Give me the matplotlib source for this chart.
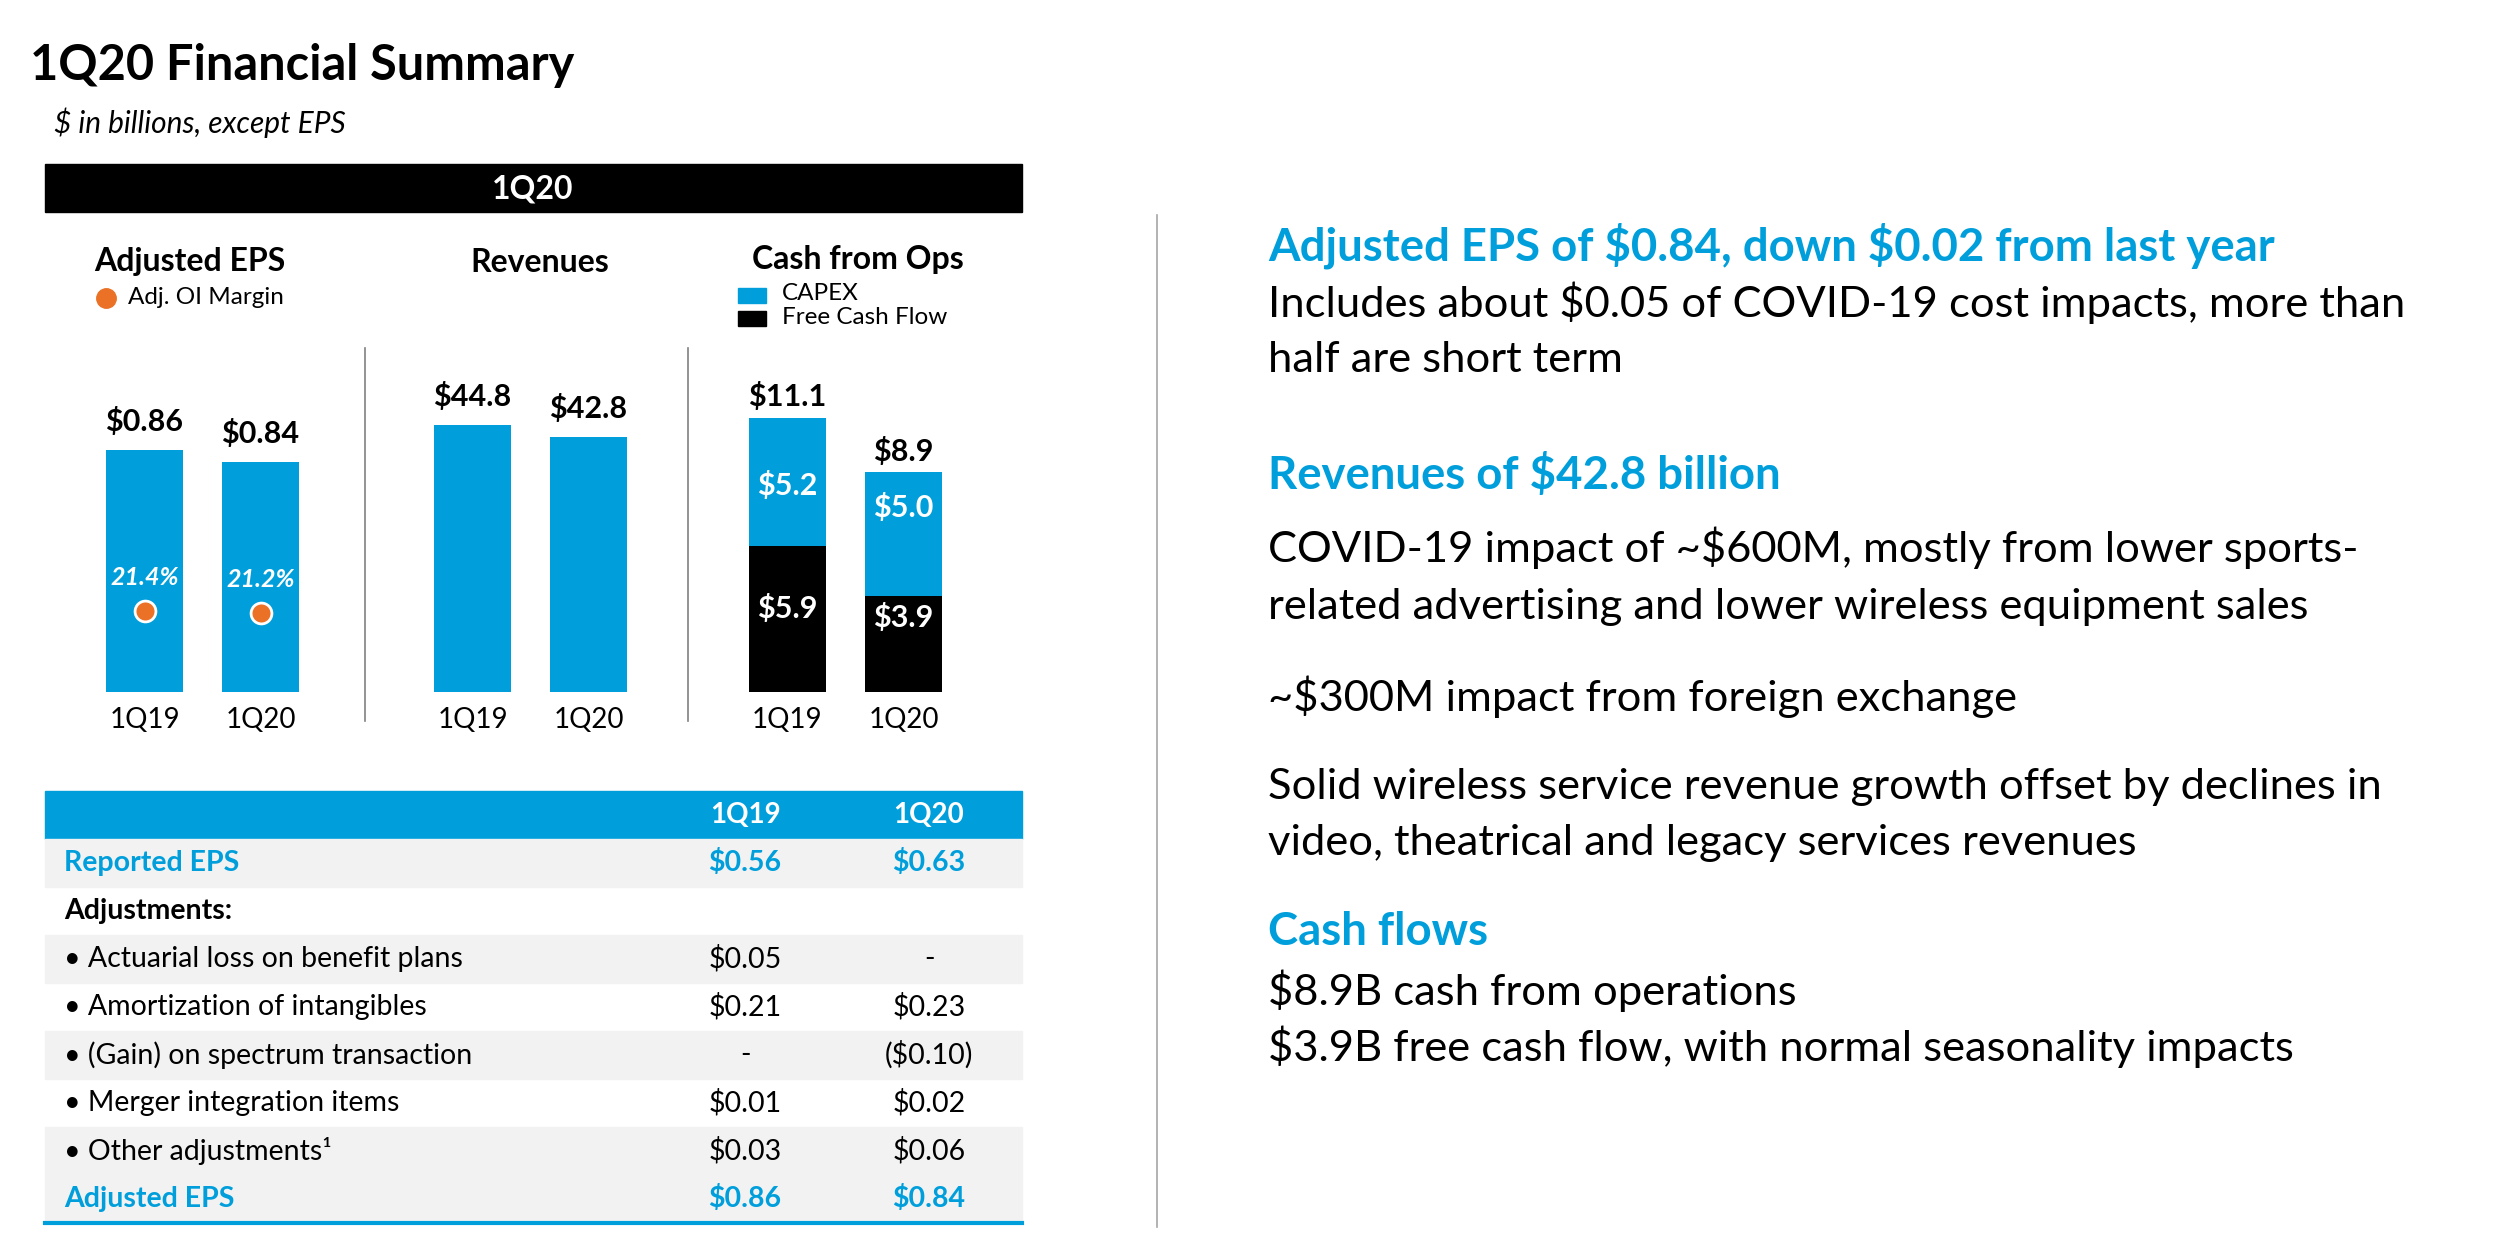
import matplotlib.pyplot as plt
from matplotlib.patches import Rectangle

# ----------------------------------------
# Data
# ----------------------------------------
quarters = ["1Q19", "1Q20"]
adj_eps = [0.86, 0.84]
oi_margin = [21.4, 21.2]
revenues = [44.8, 42.8]
capex = [5.2, 5.0]
free_cash_flow = [5.9, 3.9]
cash_from_ops = [11.1, 8.9]

table_labels = ["Reported EPS", "Adjustments:", "• Actuarial loss on benefit plans",
                "• Amortization of intangibles", "• (Gain) on spectrum transaction",
                "• Merger integration items", "• Other adjustments\u00b9", "Adjusted EPS"]
table_1q19 = ["$0.56", "", "$0.05", "$0.21", "-", "$0.01", "$0.03", "$0.86"]
table_1q20 = ["$0.63", "", "-", "$0.23", "($0.10)", "$0.02", "$0.06", "$0.84"]

right_text = [
    ("Adjusted EPS of $0.84, down $0.02 from last year", "head", 246),
    ("Includes about $0.05 of COVID-19 cost impacts, more than", "body", 303),
    ("half are short term", "body", 360),
    ("Revenues of $42.8 billion", "head", 475),
    ("COVID-19 impact of ~$600M, mostly from lower sports-", "body", 548),
    ("related advertising and lower wireless equipment sales", "body", 607),
    ("~$300M impact from foreign exchange", "body", 697),
    ("Solid wireless service revenue growth offset by declines in", "body", 787),
    ("video, theatrical and legacy services revenues", "body", 843),
    ("Cash flows", "head", 932),
    ("$8.9B cash from operations", "body", 991),
    ("$3.9B free cash flow, with normal seasonality impacts", "body", 1047),
]

# ----------------------------------------
# Style
# ----------------------------------------
BLUE = "#009FDB"
ORANGE = "#EA7125"
GRAY_ROW = "#F2F2F2"
plt.rcParams['font.family'] = ['Lato', 'DejaVu Sans']
plt.rcParams['text.parse_math'] = False

# where the labels sit inside the stacked segments (fraction of segment height)
CAPEX_LABEL_POS = [0.47, 0.71]
FCF_LABEL_POS = [0.57, 0.77]

W, H = 2499, 1238
fig = plt.figure(figsize=(W / 100, H / 100), dpi=100)

# background axes in pixel coordinates (y down)
bg = fig.add_axes([0, 0, 1, 1])
bg.set_xlim(0, W)
bg.set_ylim(H, 0)
bg.axis('off')


def px_rect(x0, y0, x1, y1):
    return [x0 / W, 1 - y1 / H, (x1 - x0) / W, (y1 - y0) / H]


# ----------------------------------------
# Titles and header bar
# ----------------------------------------
bg.text(30, 65, "1Q20 Financial Summary", fontsize=35, fontweight='bold', va='center')
bg.text(54, 123, "$ in billions, except EPS", fontsize=21.5, style='italic', va='center')
bg.add_patch(Rectangle((45, 164), 977, 48, color='black'))
bg.text(533, 189, "1Q20", fontsize=23, fontweight='bold', color='white', ha='center', va='center')

bg.text(190, 262, "Adjusted EPS", fontsize=23, fontweight='bold', ha='center', va='center')
bg.text(540, 262, "Revenues", fontsize=23, fontweight='bold', ha='center', va='center')
bg.text(858, 259, "Cash from Ops", fontsize=23, fontweight='bold', ha='center', va='center')

# legends
bg.plot(106, 298, 'o', ms=14, color=ORANGE)
bg.text(128, 297, "Adj. OI Margin", fontsize=17.5, va='center')
bg.add_patch(Rectangle((738, 288), 28, 15, color=BLUE))
bg.text(782, 294, "CAPEX", fontsize=17.5, va='center')
bg.add_patch(Rectangle((738, 311), 28, 15, color='black'))
bg.text(782, 318, "Free Cash Flow", fontsize=17.5, va='center')

# separators
for sx in (365, 688):
    bg.plot([sx, sx], [348, 721], color="#808080", lw=1.2)
bg.plot([1157, 1157], [215, 1227], color="#A6A6A6", lw=1.2)

# ----------------------------------------
# Bar panels
# ----------------------------------------
BAR_TOP, BAR_BOTTOM = 330, 692
PANEL_H = BAR_BOTTOM - BAR_TOP
BAR_W = 77 / 116


def make_panel(center0, base, px_per_unit):
    left = center0 - 0.5 * 116
    ax = fig.add_axes(px_rect(left, BAR_TOP, left + 232, BAR_BOTTOM))
    ax.set_xlim(-0.5, 1.5)
    ax.set_ylim(base, base + PANEL_H / px_per_unit)
    ax.patch.set_alpha(0)
    for s in ax.spines.values():
        s.set_visible(False)
    ax.set_yticks([])
    ax.set_xticks(range(len(quarters)))
    ax.set_xticklabels(quarters, fontsize=20)
    ax.tick_params(axis='x', length=0, pad=11)
    return ax


# Adjusted EPS
ax_eps = make_panel(144.5, 0.457, 600)
ax_eps.bar(range(2), adj_eps, width=BAR_W, color=BLUE)
for i, v in enumerate(adj_eps):
    ax_eps.annotate(f"${v:.2f}", (i, v), xytext=(0, 21), textcoords='offset points',
                    ha='center', va='center', fontsize=22, fontweight='bold')

ax_oi = ax_eps.twinx()
ax_oi.set_ylim(13.3, 13.3 + PANEL_H / 10)
ax_oi.axis('off')
ax_oi.plot(range(2), oi_margin, 'o', ls='none', ms=15, color=ORANGE, mec='white', mew=2)
for i, v in enumerate(oi_margin):
    ax_oi.annotate(f"{v:.1f}%", (i, v), xytext=(0, 24), textcoords='offset points',
                   ha='center', va='center', fontsize=18, fontweight='bold',
                   style='italic', color='white')

# Revenues
ax_rev = make_panel(472.5, 0, 5.95)
ax_rev.bar(range(2), revenues, width=BAR_W, color=BLUE)
for i, v in enumerate(revenues):
    ax_rev.annotate(f"${v:.1f}", (i, v), xytext=(0, 21), textcoords='offset points',
                    ha='center', va='center', fontsize=22, fontweight='bold')

# Cash from Ops
ax_cash = make_panel(787.5, 0, 24.7)
ax_cash.bar(range(2), free_cash_flow, width=BAR_W, color='black')
ax_cash.bar(range(2), capex, bottom=free_cash_flow, width=BAR_W, color=BLUE)
for i in range(2):
    ax_cash.annotate(f"${cash_from_ops[i]:.1f}", (i, cash_from_ops[i]), xytext=(0, 15),
                     textcoords='offset points', ha='center', va='center',
                     fontsize=22, fontweight='bold')
    ax_cash.text(i, free_cash_flow[i] * FCF_LABEL_POS[i], f"${free_cash_flow[i]:.1f}",
                 ha='center', va='center', fontsize=22, fontweight='bold', color='white')
    ax_cash.text(i, free_cash_flow[i] + capex[i] * CAPEX_LABEL_POS[i], f"${capex[i]:.1f}",
                 ha='center', va='center', fontsize=22, fontweight='bold', color='white')

# ----------------------------------------
# EPS reconciliation table
# ----------------------------------------
T_LEFT, T_RIGHT, T_TOP, ROW_H = 45, 1022, 791, 48
COL1, COL2 = 745, 929
bg.add_patch(Rectangle((T_LEFT, T_TOP), T_RIGHT - T_LEFT, ROW_H, color=BLUE))
bg.text(COL1, T_TOP + ROW_H / 2, quarters[0], fontsize=20, fontweight='bold', color='white',
        ha='center', va='center')
bg.text(COL2, T_TOP + ROW_H / 2, quarters[1], fontsize=20, fontweight='bold', color='white',
        ha='center', va='center')

row_fill = [True, False, True, False, True, False, True, True]
for r, label in enumerate(table_labels):
    y0 = T_TOP + ROW_H * (r + 1)
    yc = y0 + ROW_H / 2
    if row_fill[r]:
        bg.add_patch(Rectangle((T_LEFT, y0), T_RIGHT - T_LEFT, ROW_H, color=GRAY_ROW))
    if r in (0, len(table_labels) - 1):
        color, weight = BLUE, 'bold'
    elif r == 1:
        color, weight = 'black', 'bold'
    else:
        color, weight = 'black', 'normal'
    bg.text(64, yc, label, fontsize=20.5, color=color, fontweight=weight, va='center')
    bg.text(COL1, yc, table_1q19[r], fontsize=20.5, color=color, fontweight=weight,
            ha='center', va='center')
    bg.text(COL2, yc, table_1q20[r], fontsize=20.5, color=color, fontweight=weight,
            ha='center', va='center')

table_bottom = T_TOP + ROW_H * (len(table_labels) + 1)
bg.plot([T_LEFT, T_RIGHT], [table_bottom, table_bottom], color=BLUE, lw=3)

# ----------------------------------------
# Commentary on the right
# ----------------------------------------
for txt, kind, y in right_text:
    if kind == "head":
        bg.text(1268, y, txt, fontsize=32.8, fontweight='bold', color=BLUE, va='center')
    else:
        bg.text(1268, y, txt, fontsize=31.3, color='black', va='center')

fig.savefig("out.png", dpi=100)
